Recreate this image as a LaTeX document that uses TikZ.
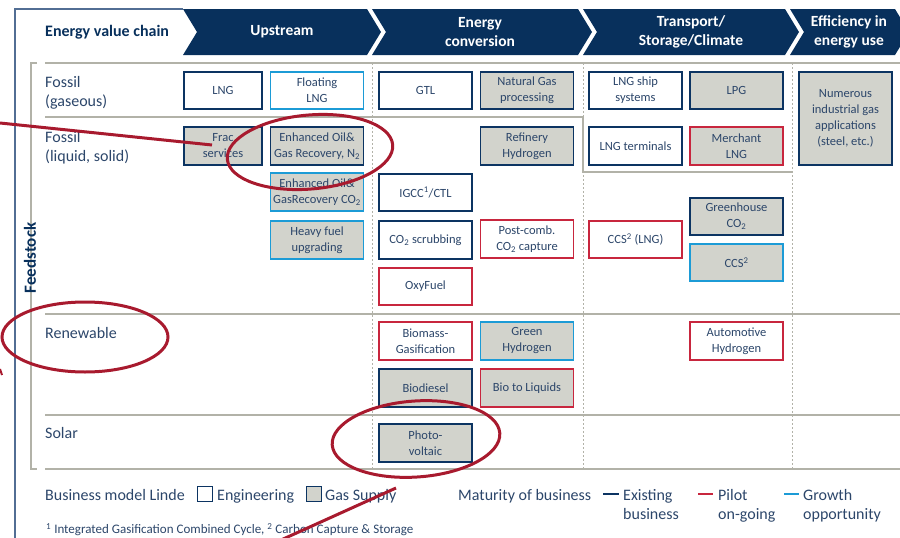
\documentclass[tikz,border=0pt]{standalone}
\usepackage{fontspec}
\setmainfont{Carlito}
\definecolor{hdrnavy}{RGB}{8,48,92}
\definecolor{boxnavy}{RGB}{12,52,98}
\definecolor{pilotred}{RGB}{200,38,62}
\definecolor{growthblue}{RGB}{28,155,214}
\definecolor{gasgrey}{RGB}{210,211,204}
\definecolor{linegrey}{RGB}{178,178,168}
\definecolor{txtblue}{RGB}{44,70,106}
\definecolor{frameblue}{RGB}{82,110,148}
\definecolor{markred}{RGB}{168,26,46}
\begin{document}
\begin{tikzpicture}[x=1pt, y=-1pt,
    header/.style ={fill=hdrnavy},
    htext/.style ={text=white, align=center, font=\fontsize{15.5}{19}\selectfont\bfseries},
    rowline/.style ={draw=linegrey, line width=2pt},
    coldiv/.style ={draw=linegrey, line width=1pt, dash pattern=on 2pt off 2pt},
    rowlabel/.style ={anchor=north west, inner sep=0pt, align=left, text=txtblue, font=\fontsize{16}{19}\selectfont},
    box/.style ={rectangle, line width=1.8pt, minimum width=93pt, minimum height=37.5pt, inner sep=0pt, align=center, text=txtblue, font=\fontsize{12.5}{16}\selectfont},
    narrow/.style ={minimum width=78pt},
    eng/.style ={fill=white},
    gas/.style ={fill=gasgrey},
    exist/.style ={draw=boxnavy},
    pilot/.style ={draw=pilotred},
    growth/.style ={draw=growthblue},
    legtext/.style ={anchor=north west, inner sep=0pt, align=left, text=txtblue, font=\fontsize{16}{19}\selectfont},
    legsq/.style ={rectangle, draw=boxnavy, line width=1pt, minimum size=15pt, inner sep=0pt},
    hilite/.style ={draw=markred, line width=3pt}]
   \useasboundingbox (0,0) rectangle (900,538);

   \draw[frameblue, line width=1.2pt] (183,9) -- (15,9) -- (15,538);
   \foreach \a/\b in {183/367, 372/578, 583/785, 790/895}
     \fill[header] (\a,9) -- (\b,9) -- (\b+14,32) -- (\b,55) -- (\a,55) -- (\a+14,32) -- cycle;
   \node[anchor=west, inner sep=0pt, text=hdrnavy, font=\fontsize{16}{19}\selectfont\bfseries] (chain) at (45,32) {Energy value chain};
   \node[htext] (upstream) at (282,32) {Upstream};
   \node[htext] (conversion) at (480,32) {Energy\\conversion};
   \node[htext] (transport) at (691,32) {Transport/\\Storage/Climate};
   \node[htext] (efficiency) at (849,32) {Efficiency in\\energy use};

   \draw[linegrey, line width=2pt] (37,63) -- (31,63) -- (31,469) -- (37,469);
   \draw[rowline] (45,63) -- (900,63);
   \draw[rowline] (45,117) -- (583,117) -- (583,172) -- (792,172);
   \draw[rowline] (45,314) -- (900,314);
   \draw[rowline] (45,415) -- (900,415);
   \draw[rowline] (45,469) -- (900,469);
   \foreach \x in {372, 583, 792}
     \draw[coldiv] (\x,63) -- (\x,469);

   \node[rotate=90, text=hdrnavy, font=\fontsize{17}{19}\selectfont\bfseries] (feedstock) at (30,258) {Feedstock};
   \node[rowlabel] (gaseous) at (45,76) {Fossil\\(gaseous)};
   \node[rowlabel] (liquid) at (45,131) {Fossil\\(liquid, solid)};
   \node[rowlabel] (renewable) at (45,327) {Renewable};
   \node[rowlabel] (solar) at (45,427) {Solar};

   \node[box, narrow, eng, exist] (lng) at (223,90.5) {LNG};
   \node[box, eng, growth] (floatlng) at (317,90.5) {Floating\\LNG};
   \node[box, narrow, gas, exist] (frac) at (223,146) {Frac\\services};
   \node[box, gas, exist] (eorn) at (317,146) {Enhanced Oil\&\\Gas Recovery, N\textsubscript{2}};
   \node[box, gas, growth] (eorco) at (317,192) {Enhanced Oil\&\\GasRecovery CO\textsubscript{2}};
   \node[box, gas, growth] (heavy) at (317,240) {Heavy fuel\\upgrading};

   \node[box, eng, exist] (gtl) at (425.5,90.5) {GTL};
   \node[box, gas, exist] (ngproc) at (527,90.5) {Natural Gas\\processing};
   \node[box, gas, exist] (refinery) at (527,146) {Refinery\\Hydrogen};
   \node[box, eng, exist] (igcc) at (425.5,192.5) {IGCC\textsuperscript{1}/CTL};
   \node[box, eng, exist] (scrub) at (425.5,240) {CO\textsubscript{2} scrubbing};
   \node[box, eng, pilot] (postcomb) at (527,239) {Post-comb.\\CO\textsubscript{2} capture};
   \node[box, eng, pilot] (oxyfuel) at (425.5,286.5) {OxyFuel};
   \node[box, eng, pilot] (biomass) at (425.5,341) {Biomass-\\Gasification};
   \node[box, gas, growth] (greenh) at (527,341) {Green\\Hydrogen};
   \node[box, gas, exist] (biodiesel) at (425.5,388) {Biodiesel};
   \node[box, gas, pilot] (btl) at (527,388) {Bio to Liquids};
   \node[box, gas, exist] (pv) at (425.5,443) {Photo-\\voltaic};

   \node[box, eng, exist] (lngship) at (635.5,90.5) {LNG ship\\systems};
   \node[box, gas, exist] (lpg) at (736.5,90.5) {LPG};
   \node[box, eng, exist] (lngterm) at (635.5,146) {LNG terminals};
   \node[box, gas, pilot] (merchant) at (736.5,146) {Merchant\\LNG};
   \node[box, gas, exist] (greenhouse) at (736.5,216.5) {Greenhouse\\CO\textsubscript{2}};
   \node[box, gas, growth] (ccs) at (736.5,262.5) {CCS\textsuperscript{2}};
   \node[box, eng, pilot] (ccslng) at (635.5,239.5) {CCS\textsuperscript{2} (LNG)};
   \node[box, eng, pilot] (autoh) at (736.5,341) {Automotive\\Hydrogen};

   \node[box, gas, exist, minimum height=93pt] (numerous) at (845.5,118.5) {Numerous\\industrial gas\\applications\\(steel, etc.)};

   \node[legtext] (bmodel) at (45,489) {Business model Linde};
   \node[legsq, fill=white] (sqeng) at (205,494) {};
   \node[legtext] (engineering) at (217,489) {Engineering};
   \node[legsq, fill=gasgrey] (sqgas) at (314,494) {};
   \node[legtext] (gassupply) at (325,489) {Gas Supply};
   \node[legtext] (maturity) at (458,489) {Maturity of business};
   \draw[boxnavy, line width=2pt] (603,494) -- (619,494);
   \node[legtext] (existing) at (623,489) {Existing\\business};
   \draw[pilotred, line width=2pt] (698,494) -- (713,494);
   \node[legtext] (pilotgoing) at (718,489) {Pilot\\on-going};
   \draw[growthblue, line width=2pt] (784,494) -- (799,494);
   \node[legtext] (growthopp) at (803,489) {Growth\\opportunity};
   \node[anchor=north west, inner sep=0pt, text=txtblue, font=\fontsize{13}{15}\selectfont] (footnote) at (46,523.5) {\textsuperscript{1} Integrated Gasification Combined Cycle, \textsuperscript{2} Carbon Capture \& Storage};

   \coordinate (ptrA) at (0,123);
   \coordinate (ptrAend) at (212,145);
   \coordinate (ptrB) at (281,540);
   \coordinate (ptrBend) at (396,488);
   \draw[hilite] (ptrA) -- (ptrAend);
   \draw[hilite] (ptrB) -- (ptrBend);
   \draw[hilite, line width=2pt] (0,369) -- (2,375);
   \draw[hilite, rotate around={5:(310,152)}] (310,152) ellipse [x radius=83pt, y radius=37pt];
   \draw[hilite] (85,337) ellipse [x radius=83pt, y radius=35pt];
   \draw[hilite, rotate around={4:(416,439)}] (416,439) ellipse [x radius=84pt, y radius=38pt];
 \end{tikzpicture}
\end{document}
